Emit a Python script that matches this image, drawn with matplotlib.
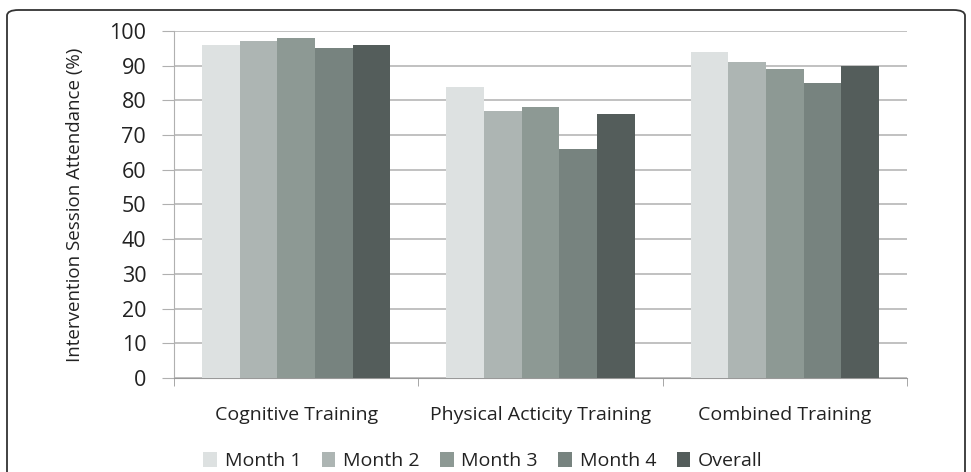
import matplotlib
matplotlib.use("Agg")
import matplotlib.pyplot as plt
import numpy as np
from matplotlib.patches import FancyBboxPatch

categories = ["Cognitive Training", "Physical Acticity Training", "Combined Training"]
series_names = ["Month 1", "Month 2", "Month 3", "Month 4", "Overall"]
month1 = [96, 84, 94]
month2 = [97, 77, 91]
month3 = [98, 78, 89]
month4 = [95, 66, 85]
overall = [96, 76, 90]
yticks = [0, 10, 20, 30, 40, 50, 60, 70, 80, 90, 100]

colors = ["#dde1e1", "#adb5b3", "#8d9994", "#77837f", "#545d5b"]
series = [month1, month2, month3, month4, overall]

plt.rcParams['font.family'] = ['Open Sans', 'DejaVu Sans']

fig = plt.figure(figsize=(9.71, 4.72), dpi=100)
ax = fig.add_axes([174/971, 1-378/472, (907-174)/971, (378-31)/472])

frame = FancyBboxPatch((7/971, -0.1), (965-7)/971, (467-5)/472 + 0.1,
                       boxstyle="round,pad=0,rounding_size=0.012",
                       transform=fig.transFigure, fill=False, edgecolor="#333333",
                       linewidth=1.3, zorder=0)
fig.patches.append(frame)

x = np.arange(len(categories))
n = len(series)
bw = 0.77 / n
for i, (vals, c, name) in enumerate(zip(series, colors, series_names)):
    ax.bar(x + (i - (n-1)/2) * bw, vals, width=bw, color=c, label=name, zorder=3)

ax.set_xlim(-0.5, len(categories) - 0.5)
ax.set_ylim(0, 100)
ax.set_yticks(yticks)
ax.set_yticklabels([str(v) for v in yticks], fontsize=15.5, color="#222222")
ax.yaxis.grid(True, color="#b0b0b0", linewidth=1.1, zorder=0)
ax.tick_params(axis='y', length=9, color="#b0b0b0", pad=11)

ax.set_xticks(x)
ax.set_xticklabels(categories, fontsize=14, color="#222222")
ax.tick_params(axis='x', length=0, pad=20)
ax.set_xticks(np.arange(-0.5, len(categories)), minor=True)
ax.tick_params(axis='x', which='minor', length=6, color="#999999")

for s in ["top", "right"]:
    ax.spines[s].set_visible(False)
ax.spines["left"].set_color("#b0b0b0")
ax.spines["bottom"].set_color("#999999")

ax.set_ylabel("Intervention Session Attendance (%)", fontsize=13.5, color="#222222", labelpad=18)

leg = fig.legend(loc="center", bbox_to_anchor=(483/971, 1-461/472), ncol=5, frameon=False,
                 fontsize=14, handlelength=0.7, handleheight=0.8, handletextpad=0.4,
                 columnspacing=1.05)
for t in leg.get_texts():
    t.set_color("#222222")

fig.savefig("out.png", dpi=100)
